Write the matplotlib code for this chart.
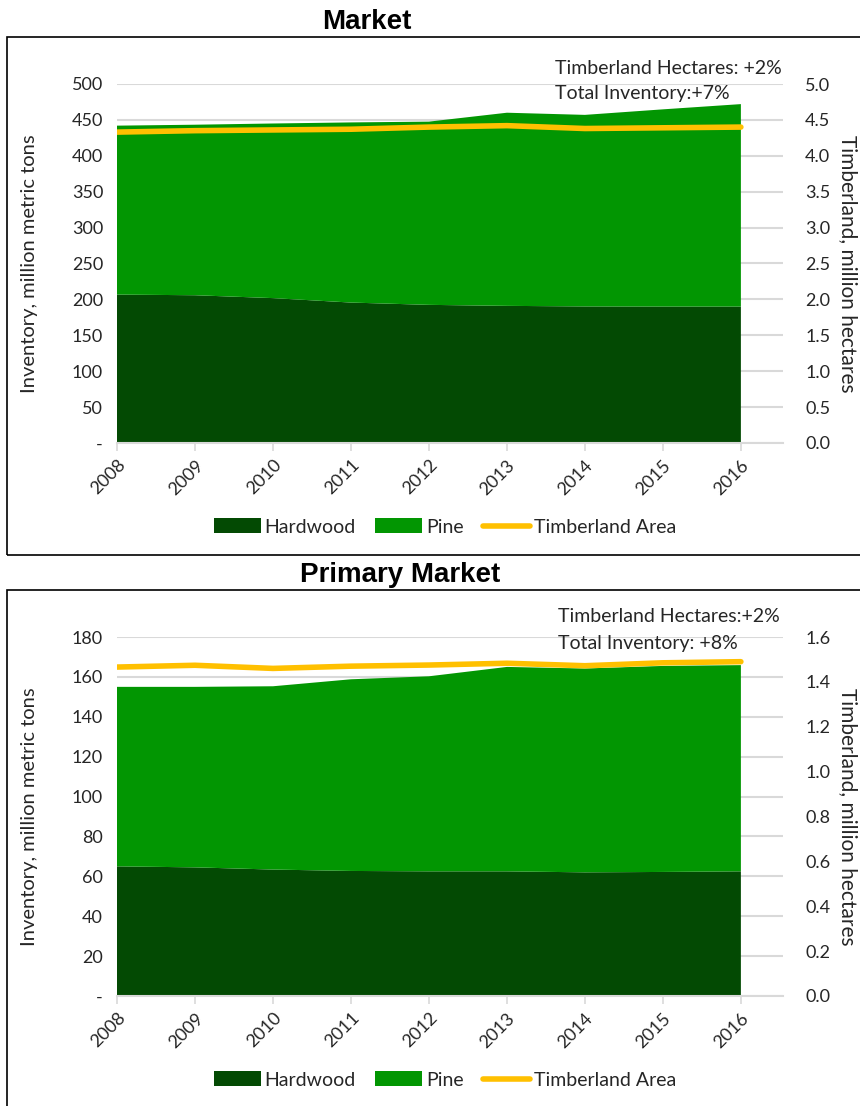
import matplotlib
matplotlib.use("Agg")
import matplotlib.pyplot as plt
from matplotlib.patches import Rectangle
from matplotlib.ticker import FuncFormatter

plt.rcParams["font.family"] = ["Lato", "DejaVu Sans"]

years = [2008, 2009, 2010, 2011, 2012, 2013, 2014, 2015, 2016]

# Market
mkt_hardwood = [206.7, 205.8, 201.8, 195.6, 192.4, 191.0, 190.2, 190.0, 190.0]
mkt_pine = [235.3, 237.5, 243.2, 250.9, 255.2, 269.0, 266.8, 274.7, 282.0]
mkt_area = [4.33, 4.35, 4.36, 4.37, 4.40, 4.42, 4.38, 4.39, 4.40]

# Primary market
pri_hardwood = [65.0, 64.5, 63.4, 62.7, 62.5, 62.5, 62.0, 62.2, 62.5]
pri_pine = [90.0, 90.5, 91.9, 96.1, 97.8, 102.5, 102.2, 103.3, 103.4]
pri_area = [1.466, 1.474, 1.460, 1.470, 1.475, 1.483, 1.472, 1.485, 1.490]

HARD = "#034a03"
PINE = "#029602"
AREA = "#ffc000"
GRID = "#d9d9d9"
TXT = "#262626"

W, H = 860, 1106
fig = plt.figure(figsize=(W / 100, H / 100), dpi=100)


def fx(px):
    return px / W


def fy(py):
    return 1 - py / H


def panel(top_px, bottom_px, hard, pine, area, ymax, ystep, rmax, rstep, notes, title, title_x, title_y, legend_y):
    ax = fig.add_axes([fx(117), fy(bottom_px), fx(783) - fx(117), fy(top_px) - fy(bottom_px)])
    ax.stackplot(years, hard, pine, colors=[HARD, PINE], labels=["Hardwood", "Pine"], zorder=2)
    ax.set_xlim(2008, 2016.54)
    ax.set_ylim(0, ymax)
    ax.set_yticks([i * ystep for i in range(int(round(ymax / ystep)) + 1)])
    ax.yaxis.set_major_formatter(FuncFormatter(lambda v, p: "-" if v == 0 else f"{v:.0f}"))
    ax.grid(axis="y", color=GRID, lw=1.5, zorder=0)
    ax.set_axisbelow(True)
    for s in ["top", "right", "left"]:
        ax.spines[s].set_visible(False)
    ax.spines["bottom"].set_color(GRID)
    ax.spines["bottom"].set_linewidth(1.5)
    ax.set_xticks(years)
    ax.set_xticklabels([str(y) for y in years], rotation=45, ha="right", rotation_mode="anchor")
    ax.tick_params(axis="x", colors=GRID, labelcolor=TXT, labelsize=13, length=6, width=1.2, pad=4)
    ax.tick_params(axis="y", length=0, labelsize=13, labelcolor=TXT, pad=10)
    ax.set_ylabel("Inventory, million metric tons", fontsize=14.5, color=TXT, va="center")
    ax.yaxis.set_label_coords(-0.131, 0.5)

    ax2 = ax.twinx()
    ax2.plot(years, area, color=AREA, lw=4, solid_capstyle="round", label="Timberland Area", zorder=3)
    ax2.set_ylim(0, rmax)
    ax2.set_yticks([i * rstep for i in range(int(round(rmax / rstep)) + 1)])
    ax2.yaxis.set_major_formatter(FuncFormatter(lambda v, p: f"{v:.1f}"))
    ax2.tick_params(axis="y", length=0, labelsize=13, labelcolor=TXT, pad=16)
    for s in ax2.spines.values():
        s.set_visible(False)
    ax2.set_ylabel("Timberland, million hectares", fontsize=15, color=TXT, rotation=-90, va="center")
    ax2.yaxis.set_label_coords(1.098, 0.5)

    fig.text(fx(notes[0][0]), fy(notes[0][1]), notes[0][2], fontsize=14, color=TXT, va="center")
    fig.text(fx(notes[1][0]), fy(notes[1][1]), notes[1][2], fontsize=14, color=TXT, va="center")

    fig.text(fx(title_x), fy(title_y), title, fontsize=20, fontweight="bold",
             family="Liberation Sans", ha="center", va="center")

    h1, l1 = ax.get_legend_handles_labels()
    h2, l2 = ax2.get_legend_handles_labels()
    fig.legend(h1 + h2, l1 + l2, loc="center", bbox_to_anchor=(fx(445), fy(legend_y)), ncol=3,
               frameon=False, fontsize=14, handlelength=2.4, handleheight=0.8,
               columnspacing=1.0, handletextpad=0.2, labelcolor=TXT)


# panel frames
fig.patches.append(Rectangle((fx(7), fy(555)), 1.2, fy(37) - fy(555), transform=fig.transFigure,
                             fill=False, edgecolor="black", lw=1.2))
fig.patches.append(Rectangle((fx(7), -0.1), 1.2, fy(590) + 0.1, transform=fig.transFigure,
                             fill=False, edgecolor="black", lw=1.2))

panel(84, 443, mkt_hardwood, mkt_pine, mkt_area, 500, 50, 5.0, 0.5,
      [(555, 68, "Timberland Hectares: +2%"), (555, 93, "Total Inventory:+7%")],
      "Market", 367, 22, 527)
panel(637, 996, pri_hardwood, pri_pine, pri_area, 180, 20, 1.6, 0.2,
      [(558, 617, "Timberland Hectares:+2%"), (558, 643, "Total Inventory: +8%")],
      "Primary Market", 400, 575, 1080)

fig.savefig("out.png", dpi=100)
